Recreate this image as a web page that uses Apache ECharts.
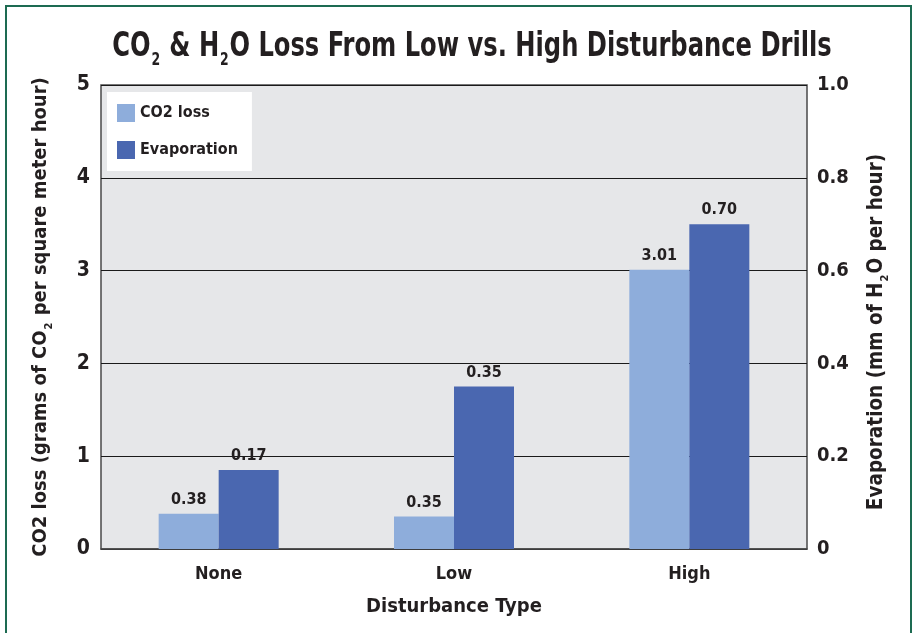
<!DOCTYPE html>
<html>
<head>
<meta charset="utf-8">
<script src="https://cdn.jsdelivr.net/npm/echarts@6/dist/echarts.min.js"></script>
<style>
html,body{margin:0;padding:0;background:#fff;}
#c{width:917px;height:633px;}
</style>
</head>
<body>
<div id="c"></div>
<script>
const categories = ['None', 'Low', 'High'];
const co2Loss = [0.38, 0.35, 3.01];
const evaporation = [0.17, 0.35, 0.70];
const leftTicks = [0, 1, 2, 3, 4, 5];
const rightTicks = [0, 0.2, 0.4, 0.6, 0.8, 1.0];

const FONT = "'Liberation Sans Narrow', 'DejaVu Sans Condensed', 'Roboto Condensed', sans-serif";
const TXT = '#231f20';

const chart = echarts.init(document.getElementById('c'));
chart.setOption({
  animation: false,
  backgroundColor: '#fff',
  textStyle: { fontFamily: FONT, fontWeight: 'bold', color: TXT },
  graphic: [{
    type: 'rect',
    shape: { x: 6, y: 6, width: 905, height: 640 },
    style: { fill: 'none', stroke: '#1d6b52', lineWidth: 2 },
    silent: true
  }, {
    type: 'text',
    x: 472,
    y: 47,
    scaleX: 0.815,
    silent: true,
    style: {
      text: '{b|CO}{s|2}{b| & H}{s|2}{b|O Loss From Low vs. High Disturbance Drills}',
      align: 'center',
      verticalAlign: 'middle',
      rich: {
        b: { fontFamily: FONT, fontWeight: 'bold', fontSize: 33, fill: TXT, lineHeight: 36, verticalAlign: 'middle' },
        s: { fontFamily: FONT, fontWeight: 'bold', fontSize: 17, fill: TXT, lineHeight: 17, verticalAlign: 'bottom', padding: [0, 1, -4, 1] }
      }
    }
  }],
  legend: {
    orient: 'vertical',
    left: 107,
    top: 92,
    backgroundColor: '#ffffff',
    padding: [12, 14, 12, 10],
    itemWidth: 18,
    itemHeight: 18,
    itemGap: 19,
    icon: 'rect',
    textStyle: { fontFamily: FONT, fontWeight: 'bold', fontSize: 16, color: TXT },
    data: ['CO2 loss', 'Evaporation']
  },
  grid: {
    left: 101, right: 110, top: 85, bottom: 84,
    show: true,
    backgroundColor: '#e6e7e9',
    borderColor: '#4a4a4a',
    borderWidth: 1.5
  },
  xAxis: {
    type: 'category',
    data: categories,
    axisLine: { show: true, lineStyle: { color: '#4a4a4a', width: 1.5 } },
    axisTick: { show: false },
    axisLabel: { margin: 16, fontFamily: FONT, fontWeight: 'bold', fontSize: 18, color: TXT },
    name: 'Disturbance Type',
    nameLocation: 'middle',
    nameGap: 48,
    nameTextStyle: { fontFamily: FONT, fontWeight: 'bold', fontSize: 20, color: TXT }
  },
  yAxis: [{
    type: 'value',
    min: leftTicks[0],
    max: leftTicks[leftTicks.length - 1],
    interval: 1,
    position: 'left',
    axisLine: { show: false },
    axisTick: { show: false },
    splitLine: { show: true, lineStyle: { color: '#1a1a1a', width: 1 } },
    axisLabel: { margin: 11, fontFamily: FONT, fontWeight: 'bold', fontSize: 21, color: TXT },
    name: '{b|CO2 loss (grams of CO}{s|2}{b| per square meter hour)}',
    nameLocation: 'middle',
    nameRotate: 90,
    nameGap: 48,
    nameTextStyle: {
      rich: {
        b: { fontFamily: FONT, fontWeight: 'bold', fontSize: 20, color: TXT, lineHeight: 24, verticalAlign: 'middle' },
        s: { fontFamily: FONT, fontWeight: 'bold', fontSize: 11, color: TXT, lineHeight: 11, verticalAlign: 'bottom', padding: [0, 1, -2, 1] }
      }
    }
  }, {
    type: 'value',
    min: rightTicks[0],
    max: rightTicks[rightTicks.length - 1],
    interval: 0.2,
    position: 'right',
    axisLine: { show: false },
    axisTick: { show: false },
    splitLine: { show: false },
    axisLabel: {
      margin: 10, fontFamily: FONT, fontWeight: 'bold', fontSize: 20, color: TXT,
      formatter: v => v === 0 ? '0' : v.toFixed(1)
    },
    name: '{b|Evaporation (mm of H}{s|2}{b|O per hour)}',
    nameLocation: 'middle',
    nameRotate: 90,
    nameGap: 58,
    nameTextStyle: {
      padding: [0, 30, 0, 0],
      rich: {
        b: { fontFamily: FONT, fontWeight: 'bold', fontSize: 20.5, color: TXT, lineHeight: 24, verticalAlign: 'middle' },
        s: { fontFamily: FONT, fontWeight: 'bold', fontSize: 11, color: TXT, lineHeight: 11, verticalAlign: 'bottom', padding: [0, 1, -2, 1] }
      }
    }
  }],
  series: [{
    name: 'CO2 loss',
    type: 'bar',
    yAxisIndex: 0,
    data: co2Loss,
    barWidth: 60,
    barGap: '0%',
    itemStyle: { color: '#8eaddb' },
    label: {
      show: true, position: 'top', distance: 6,
      fontFamily: FONT, fontWeight: 'bold', fontSize: 16, color: TXT,
      formatter: p => p.value.toFixed(2)
    }
  }, {
    name: 'Evaporation',
    type: 'bar',
    yAxisIndex: 1,
    data: evaporation,
    barWidth: 60,
    barGap: '0%',
    itemStyle: { color: '#4a67b0' },
    label: {
      show: true, position: 'top', distance: 6,
      fontFamily: FONT, fontWeight: 'bold', fontSize: 16, color: TXT,
      formatter: p => p.value.toFixed(2)
    }
  }]
});
</script>
</body>
</html>
